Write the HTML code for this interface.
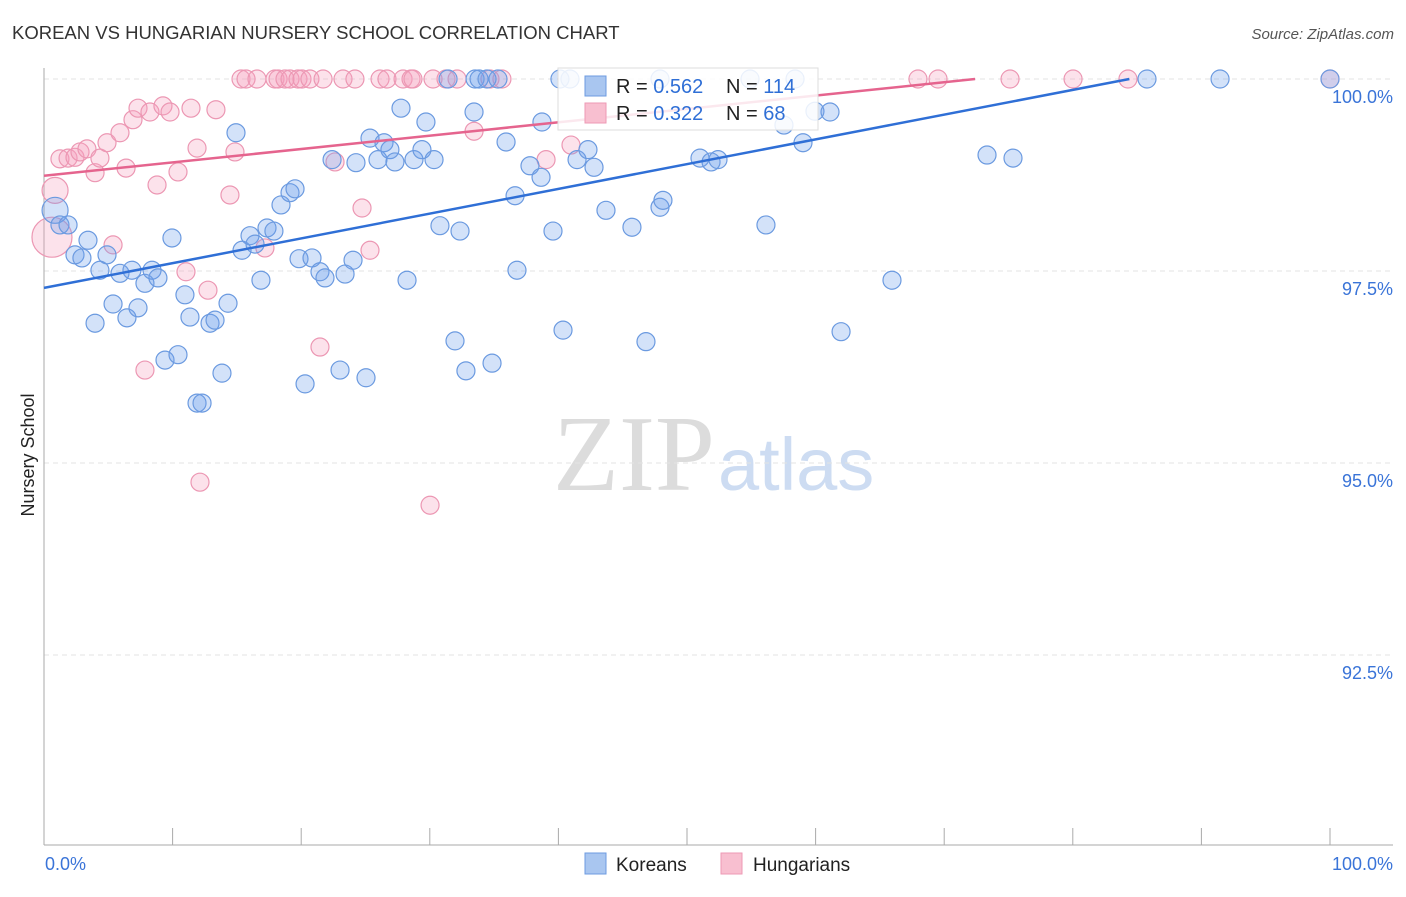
<!DOCTYPE html>
<html><head><meta charset="utf-8"><style>
body{margin:0;background:#fff;font-family:"Liberation Sans",sans-serif}
</style></head><body>
<svg id="c" width="1406" height="892" xmlns="http://www.w3.org/2000/svg">
<text x="12" y="39" font-size="18.5" fill="#333">KOREAN VS HUNGARIAN NURSERY SCHOOL CORRELATION CHART</text>
<text x="1394" y="39" font-size="15" fill="#555" font-style="italic" text-anchor="end">Source: ZipAtlas.com</text>
<text x="553" y="490" font-size="108" fill="#dcdcdc" font-family="Liberation Serif,serif">ZIP</text>
<text x="718" y="490" font-size="74" fill="#cddcf2">atlas</text>
<text transform="translate(34,455) rotate(-90)" font-size="18" fill="#222" text-anchor="middle">Nursery School</text>
<g id="grid"></g><g id="pts"></g><g id="lines"></g>
<g>
<rect x="558" y="68" width="260" height="62" fill="#fff" fill-opacity="0.85" stroke="#ddd"/>
<rect x="585" y="76" width="21" height="20" fill="#a9c6f0" stroke="#6d9be0"/>
<rect x="585" y="103" width="21" height="20" fill="#f8bfd0" stroke="#ee9ab5"/>
<text x="616" y="93" font-size="20" fill="#222">R = <tspan fill="#2f6fd6">0.562</tspan></text>
<text x="726" y="93" font-size="20" fill="#222">N = <tspan fill="#2f6fd6">114</tspan></text>
<text x="616" y="120" font-size="20" fill="#222">R = <tspan fill="#2f6fd6">0.322</tspan></text>
<text x="726" y="120" font-size="20" fill="#222">N = <tspan fill="#2f6fd6"> 68</tspan></text>
</g>
<g><rect x="585" y="853" width="21" height="21" fill="#a9c6f0" stroke="#6d9be0"/><text x="616" y="871" font-size="19" fill="#222">Koreans</text></g>
<g><rect x="721" y="853" width="21" height="21" fill="#f8bfd0" stroke="#ee9ab5"/><text x="753" y="871" font-size="19" fill="#222">Hungarians</text></g>
</svg>
<script>
const yTicks=[100,97.5,95,92.5];
const yTickLabels=["100.0%","97.5%","95.0%","92.5%"];
const xTicks=[0,10,20,30,40,50,60,70,80,90,100];
const koreansX=[0.86,1.24,1.87,2.41,2.95,3.42,3.97,4.35,4.90,5.37,5.91,6.45,6.84,7.31,7.85,8.40,8.86,9.41,9.95,10.42,10.96,11.35,11.90,12.29,12.91,13.30,13.84,14.31,14.93,15.40,16.02,16.41,16.87,17.34,17.88,18.43,19.13,19.52,19.83,20.30,20.84,21.46,21.85,22.40,23.02,23.41,24.03,24.26,25.04,25.35,25.97,26.44,26.90,27.29,27.76,28.23,28.77,29.39,29.70,30.33,30.79,31.42,31.96,32.35,32.81,33.44,33.52,33.83,34.45,34.84,35.30,35.93,36.63,36.78,37.79,38.65,38.72,39.58,40.12,40.36,41.45,42.30,42.77,43.70,45.72,46.81,47.90,48.13,51.01,51.87,52.41,56.14,57.54,59.02,59.95,61.12,61.98,65.94,73.33,75.35,85.77,91.45,100,40.9,47.9,54.9,58.4];
const koreansY=[98.29,98.10,98.10,97.71,97.67,97.90,96.82,97.51,97.71,97.07,97.47,96.89,97.51,97.02,97.34,97.51,97.41,96.34,97.93,96.41,97.19,96.90,95.78,95.78,96.82,96.86,96.17,97.08,99.30,97.77,97.96,97.85,97.38,98.06,98.02,98.36,98.52,98.57,97.66,96.03,97.67,97.49,97.41,98.95,96.21,97.46,97.64,98.91,96.11,99.23,98.95,99.17,99.08,98.92,99.62,97.38,98.95,99.08,99.44,98.95,98.09,100,96.59,98.02,96.20,99.57,100,100,100,96.30,100,99.18,98.48,97.51,98.87,98.72,99.44,98.02,100,96.73,98.95,99.08,98.85,98.29,98.07,96.58,98.33,98.42,98.97,98.92,98.95,98.10,99.40,99.17,99.58,99.57,96.71,97.38,99.01,98.97,100,100,100,100,100,100,100];
const hungX=[0.62,0.86,1.24,1.87,2.41,2.80,3.34,3.97,4.35,4.90,5.37,5.91,6.38,6.92,7.31,7.85,8.24,8.79,9.25,9.80,10.42,11.04,11.43,11.90,12.13,12.75,13.37,14.46,14.85,15.32,15.71,16.56,17.18,17.96,18.20,18.74,19.13,19.75,20.06,20.68,21.46,21.70,22.63,23.25,24.18,24.73,25.35,26.13,26.67,27.92,28.54,28.69,30.02,30.25,31.26,32.12,33.44,34.68,35.61,39.04,40.98,67.96,69.52,75.12,80.02,84.29,100];
const hungY=[97.94,98.55,98.96,98.97,98.98,99.05,99.09,98.78,98.97,99.17,97.84,99.30,98.84,99.47,99.62,96.21,99.57,98.62,99.65,99.57,98.79,97.49,99.62,99.10,94.75,97.25,99.60,98.49,99.05,100,100,100,97.80,100,100,100,100,100,100,100,96.51,100,98.92,100,100,98.32,97.77,100,100,100,100,100,94.45,100,100,100,99.32,100,100,98.95,99.14,100,100,100,100,100,100];
const trendKoreans=[97.28,100.0];
const trendKoreansEndX=84.4;
const trendHung=[98.74,100.0];
const trendHungEndX=72.4;
const NS="http://www.w3.org/2000/svg";
const X=v=>44+v*12.86, Y=v=>79+(100-v)*76.8;
function mk(t,a,p){const e=document.createElementNS(NS,t);for(const k in a)e.setAttribute(k,a[k]);p.appendChild(e);return e;}
const g=document.getElementById('grid');
yTicks.forEach((t,i)=>{
 const l=mk('line',{x1:44,x2:1393,y1:Y(t),y2:Y(t),stroke:'#e3e3e3','stroke-dasharray':'5,4'},g);
 
 
 const tx=mk('text',{x:1393,y:Y(t)+24,'font-size':18,fill:'#3a74d8','text-anchor':'end'},g);
 tx.textContent=yTickLabels[i];
 
 
});
const ax=mk('line',{x1:44,x2:44,y1:68,y2:845,stroke:'#aaa'},g);


const bx=mk('line',{x1:44,x2:1393,y1:845,y2:845,stroke:'#aaa'},g);


xTicks.forEach(t=>{const l=mk('line',{x1:X(t),x2:X(t),y1:828,y2:845,stroke:'#aaa'},g);
 
 });
const xl0=mk('text',{x:45,y:870,'font-size':18,fill:'#3a74d8'},g);xl0.textContent='0.0%';


const xl1=mk('text',{x:1393,y:870,'font-size':18,fill:'#3a74d8','text-anchor':'end'},g);xl1.textContent='100.0%';


const P=document.getElementById('pts');
hungX.forEach((x,i)=>{const r=i==0?20:(i==1?13:9);
 const c=mk('circle',{cx:X(x),cy:Y(hungY[i]),r:r,fill:'rgba(244,160,190,0.3)',stroke:'#ec97b3','stroke-width':1.2},P);
 
 });
koreansX.forEach((x,i)=>{const r=i==0?13:9;
 const c=mk('circle',{cx:X(x),cy:Y(koreansY[i]),r:r,fill:'rgba(110,160,235,0.3)',stroke:'#6b9ae0','stroke-width':1.2},P);
 
 });
const L=document.getElementById('lines');
const l1=mk('line',{x1:X(0),y1:Y(trendKoreans[0]),x2:X(trendKoreansEndX),y2:Y(trendKoreans[1]),stroke:'#2f6fd6','stroke-width':2.5},L);


const l2=mk('line',{x1:X(0),y1:Y(trendHung[0]),x2:X(trendHungEndX),y2:Y(trendHung[1]),stroke:'#e5648e','stroke-width':2.5},L);


</script>
</body></html>
